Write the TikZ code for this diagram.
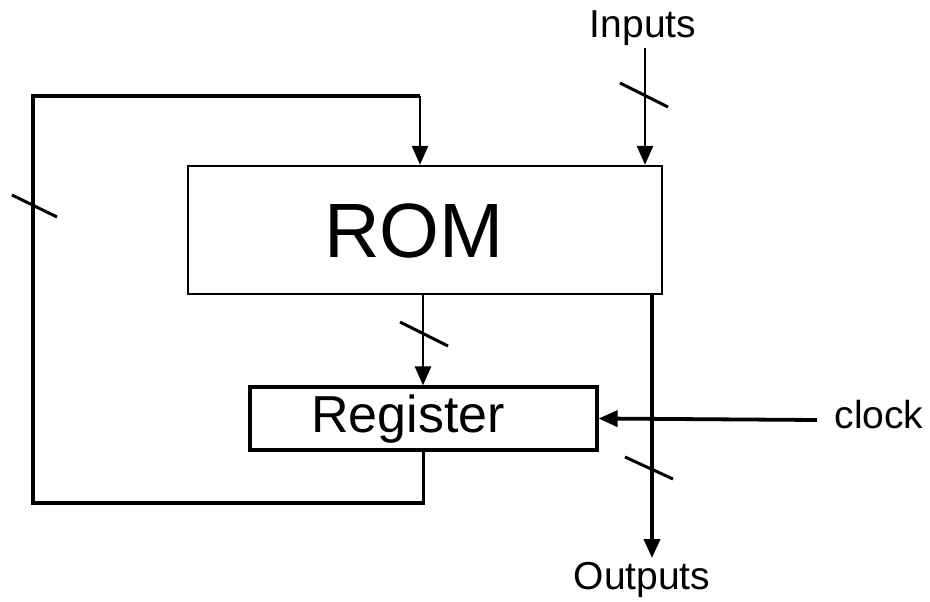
\documentclass[tikz,border=0pt]{standalone}
\usepackage{fontspec}
\setmainfont{Liberation Sans}
\usetikzlibrary{arrows.meta}
\begin{document}
\begin{tikzpicture}[x=1pt,y=-1pt,
  box/.style={draw, line width=2.4pt, inner sep=0pt},
  lbl/.style={inner sep=0pt, font=\fontsize{39}{39}\selectfont},
  wire/.style={line width=2.8pt},
  bus/.style={line width=3.8pt},
  arr/.style={-{Triangle[length=19pt,width=16pt]}},
  slash/.style={line width=3pt}]
\useasboundingbox (0,0) rectangle (930,602);
\node[box, minimum width=474pt, minimum height=128pt] (rom) at (425,230) {};
\node[inner sep=0pt, font=\fontsize{77}{77}\selectfont] (romt) at (414,231) {ROM};
\node[box, line width=3.2pt, minimum width=347pt, minimum height=63pt] (reg) at (423.5,418.5) {};
\node[inner sep=0pt, font=\fontsize{52}{52}\selectfont] (regt) at (408,419) {Register};
\node[lbl] (inputs) at (643,28) {Inputs};
\node[lbl] (outputs) at (642,580) {Outputs};
\node[lbl] (clock) at (879,415) {clock};
% coordinates
\coordinate (inTop) at (645,48);
\coordinate (fbBL) at (33,503);
\coordinate (fbTL) at (33,96);
\coordinate (fbTR) at (420,96);
\coordinate (outEnd) at (652,558);
\coordinate (clkEnd) at (817,420);
% inputs
\draw[wire, arr] (inTop) -- (inTop |- rom.north);
% rom to register
\draw[wire, arr] (423,294) -- (reg.north -| 423,0);
% feedback
\draw[bus, line join=miter] (reg.south) -- (reg.south |- fbBL) -- (fbBL) -- (fbTL) -- (fbTR);
\draw[wire, arr] (fbTR) -- (fbTR |- rom.north);
% outputs
\draw[bus, arr] (652,294) -- (outEnd);
% clock
\draw[bus, arr] (clkEnd) -- (reg.east);
% slashes
\draw[slash] (620,83) -- (668,107);
\draw[slash] (12,195) -- (57,217);
\draw[slash] (400,322) -- (448,346);
\draw[slash] (625,457) -- (673,479);
\end{tikzpicture}
\end{document}
